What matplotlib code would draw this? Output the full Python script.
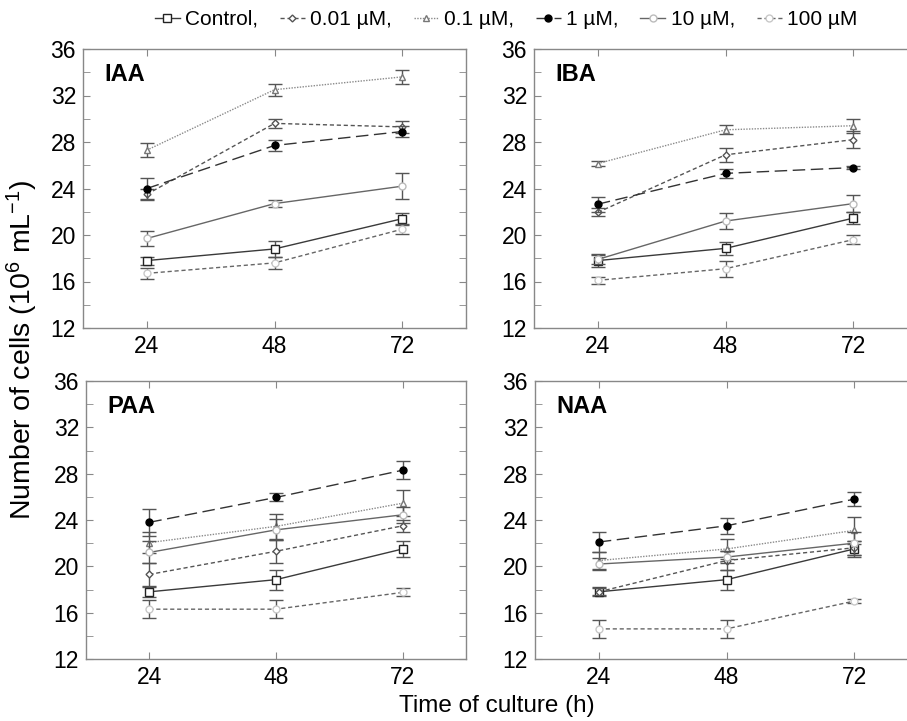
import matplotlib
matplotlib.use("Agg")
import matplotlib.pyplot as plt
from matplotlib.ticker import MultipleLocator

plt.rcParams['font.family'] = ['Liberation Sans', 'DejaVu Sans']
plt.rcParams['mathtext.fontset'] = 'custom'
plt.rcParams['mathtext.rm'] = 'Liberation Sans'
plt.rcParams['mathtext.it'] = 'Liberation Sans:italic'

hours = [24, 48, 72]
series_labels = ["Control,", "0.01 µM,", "0.1 µM,", "1 µM,", "10 µM,", "100 µM"]
panel_names = ["IAA", "IBA", "PAA", "NAA"]

# values per panel: Control, 0.01, 0.1, 1, 10, 100
iaa_mean = [[17.8, 18.8, 21.4], [23.5, 29.6, 29.3], [27.3, 32.5, 33.6],
            [24.0, 27.7, 28.9], [19.7, 22.7, 24.2], [16.7, 17.6, 20.5]]
iaa_err = [[0.35, 0.65, 0.5], [0.5, 0.4, 0.5], [0.6, 0.5, 0.6],
           [0.9, 0.5, 0.5], [0.65, 0.3, 1.1], [0.45, 0.55, 0.45]]

iba_mean = [[17.8, 18.85, 21.45], [21.95, 26.9, 28.2], [26.15, 29.05, 29.4],
            [22.65, 25.3, 25.8], [17.9, 21.2, 22.7], [16.1, 17.1, 19.6]]
iba_err = [[0.55, 0.55, 0.5], [0.35, 0.6, 0.75], [0.2, 0.4, 0.6],
           [0.65, 0.4, 0.15], [0.4, 0.65, 0.75], [0.3, 0.7, 0.4]]

paa_mean = [[17.8, 18.85, 21.5], [19.3, 21.3, 23.5], [22.05, 23.45, 25.45],
            [23.8, 25.95, 28.3], [21.2, 23.15, 24.45], [16.3, 16.3, 17.75]]
paa_err = [[0.45, 0.85, 0.7], [1.0, 1.0, 0.5], [0.9, 1.1, 1.1],
           [1.15, 0.35, 0.8], [0.95, 0.9, 0.7], [0.8, 0.8, 0.35]]

naa_mean = [[17.8, 18.85, 21.5], [17.8, 20.5, 21.6], [20.5, 21.5, 23.1],
            [22.1, 23.5, 25.8], [20.2, 20.8, 22.0], [14.6, 14.6, 17.0]]
naa_err = [[0.4, 0.85, 0.7], [0.3, 0.8, 0.6], [0.7, 0.9, 1.2],
           [0.85, 0.7, 0.6], [0.5, 0.5, 1.0], [0.75, 0.75, 0.2]]

means = [iaa_mean, iba_mean, paa_mean, naa_mean]
errs = [iaa_err, iba_err, paa_err, naa_err]

styles = [
    dict(color='#3a3a3a', ls='-', marker='s', mfc='white', mec='#222222', ms=6, lw=1.0),
    dict(color='#555555', ls=(0, (3, 2)), marker='D', mfc='white', mec='#555555', ms=3.5, lw=1.0),
    dict(color='#8a8a8a', ls=(0, (1, 1)), marker='^', mfc='white', mec='#777777', ms=4.5, lw=1.0),
    dict(color='#333333', ls=(0, (9, 4)), marker='o', mfc='black', mec='black', ms=5, lw=1.0),
    dict(color='#666666', ls='-', marker='o', mfc='white', mec='#bbbbbb', ms=5, lw=1.0),
    dict(color='#666666', ls=(0, (3, 2)), marker='o', mfc='white', mec='#c8c8c8', ms=5, lw=1.0),
]

W, H = 907, 721
fig = plt.figure(figsize=(W / 100, H / 100), dpi=100)

positions = [
    (83, 49, 383, 279),
    (534, 49, 383, 279),
    (86, 381, 380, 278),
    (535, 381, 383, 278),
]

handles = []
for p, (x0, y0, w, h) in enumerate(positions):
    ax = fig.add_axes([x0 / W, 1 - (y0 + h) / H, w / W, h / H])
    for s in range(6):
        st = styles[s]
        ax.errorbar(hours, means[p][s], yerr=errs[p][s], color=st['color'], ls=st['ls'],
                    lw=st['lw'], marker=st['marker'], mfc=st['mfc'], mec=st['mec'],
                    ms=st['ms'], mew=1.0, ecolor='#555555', elinewidth=1.0,
                    capsize=5, capthick=1.0, zorder=3 + s)
    ax.set_xlim(12, 84)
    ax.set_ylim(12, 36)
    ax.set_xticks(hours)
    ax.yaxis.set_major_locator(MultipleLocator(4))
    ax.yaxis.set_minor_locator(MultipleLocator(2))
    ax.tick_params(axis='both', which='both', direction='in', top=True, right=True,
                   color='#888888', labelsize=16.5, pad=5)
    ax.tick_params(axis='both', which='major', length=5)
    ax.tick_params(axis='both', which='minor', length=5)
    for sp in ax.spines.values():
        sp.set_color('#888888')
        sp.set_linewidth(1.0)
    ax.text(0.055, 0.91, panel_names[p], transform=ax.transAxes, fontsize=17,
            fontweight='bold', va='center', ha='left')

# legend handles
for s in range(6):
    st = styles[s]
    ln, = plt.plot([], [], color=st['color'], ls=st['ls'], lw=st['lw'], marker=st['marker'],
                   mfc=st['mfc'], mec=st['mec'], ms=st['ms'])
    handles.append(ln)

fig.legend(handles, series_labels, loc='center', bbox_to_anchor=(0.558, 0.973), ncol=6,
           frameon=False, fontsize=15, handlelength=1.2, handletextpad=0.25,
           columnspacing=1.05, borderaxespad=0)

fig.text(0.025, 0.515, 'Number of cells (10$^{6}$ mL$^{-1}$)', rotation=90,
         fontsize=20.5, ha='center', va='center')
fig.text(0.548, 0.021, 'Time of culture (h)', fontsize=17.5, ha='center', va='center')

fig.savefig('out.png', dpi=100)
